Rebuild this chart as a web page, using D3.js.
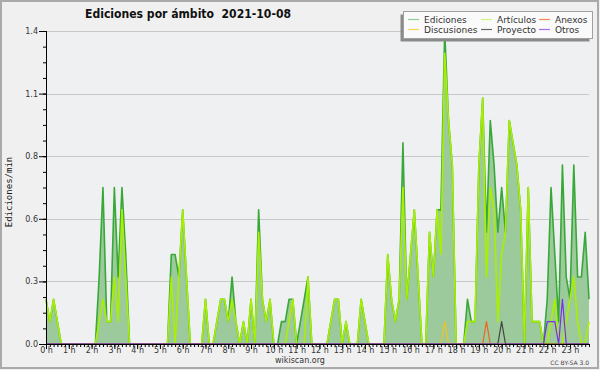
<!DOCTYPE html>
<html>
<head>
<meta charset="utf-8">
<script src="https://cdn.jsdelivr.net/npm/d3@7"></script>
<style>
  body { margin: 0; background: #f0f0f0; }
  svg { display: block; font-family: "DejaVu Sans", sans-serif; }
  text { white-space: pre; }
</style>
</head>
<body>
<svg id="chart" width="600" height="370"></svg>
<script>
// 10-minute slots, six per hour, values in edits per minute
const hourLabels = ["0 h", "1 h", "2 h", "3 h", "4 h", "5 h", "6 h", "7 h", "8 h", "9 h", "10 h", "11 h",
    "12 h", "13 h", "14 h", "15 h", "16 h", "17 h", "18 h", "19 h", "20 h", "21 h", "22 h", "23 h"];

const yMajorTicks = [0, 0.28, 0.56, 0.84, 1.12, 1.4];

const ediciones = [
    0.2,0.1,0.2,0.1,0,0,  0,0,0,0,0,0,  0,0,0.3,0.7,0.1,0.1,  0.7,0.3,0.7,0.4,0,0,
    0,0,0,0,0,0,  0,0,0,0.4,0.4,0.3,  0.6,0.3,0,0,0,0,  0.2,0,0,0.1,0.2,0.2,
    0.1,0.3,0.1,0,0.1,0,  0.2,0,0.6,0.2,0.1,0.2,  0,0,0.1,0.1,0.2,0.2,  0,0.1,0.2,0.3,0,0,
    0,0,0,0.1,0.2,0.2,  0,0.1,0,0,0,0.2,  0.1,0,0,0,0,0,  0.4,0.2,0.1,0.2,0.9,0.2,
    0.4,0.6,0.3,0,0,0.5,  0.3,0.6,0.6,1.4,1.0,0.8,  0,0,0,0.2,0.1,0.1,  0.8,1.1,0.5,1.0,0.8,0.5,
    0.7,0.5,1.0,0.9,0.8,0.6,  0,0.7,0.1,0.1,0.1,0,  0.2,0.7,0.4,0.1,0.8,0.3,  0.2,0.8,0.3,0.3,0.5,0.2
];

const articulos = [
    0.2,0.1,0.2,0.1,0,0,  0,0,0,0,0,0,  0,0,0.1,0.2,0.1,0.1,  0.3,0.1,0.6,0.3,0,0,
    0,0,0,0,0,0,  0,0,0,0.3,0,0.3,  0.6,0.3,0,0,0,0,  0.2,0,0,0.1,0.2,0.2,
    0.1,0.2,0.1,0,0.1,0,  0.2,0,0.5,0.2,0.1,0.2,  0,0,0,0,0.1,0.2,  0,0,0,0.3,0,0,
    0,0,0,0.1,0.2,0.2,  0,0.1,0,0,0,0.2,  0.1,0,0,0,0,0,  0.4,0.2,0.1,0.2,0.7,0.2,
    0.4,0.6,0.3,0,0,0.5,  0.3,0.6,0.4,1.3,1.0,0.8,  0,0,0,0.1,0.1,0.1,  0.8,1.1,0.3,0.7,0.6,0.1,
    0.4,0.5,1.0,0.9,0.8,0.6,  0,0.7,0.1,0.1,0.1,0,  0,0.1,0.2,0,0,0.1,  0.2,0.3,0.1,0,0,0.1
];

const anexos = [
    0,0,0,0,0,0,  0,0,0,0,0,0,  0,0,0,0,0,0,  0,0,0,0,0,0,
    0,0,0,0,0,0,  0,0,0,0,0,0,  0,0,0,0,0,0,  0,0,0,0,0,0,
    0,0,0,0,0,0,  0,0,0,0,0,0,  0,0,0,0,0,0,  0,0,0,0,0,0,
    0,0,0,0,0,0,  0,0,0,0,0,0,  0,0,0,0,0,0,  0,0,0,0,0,0,
    0,0,0,0,0,0,  0,0,0,0,0,0,  0,0,0,0,0,0,  0,0,0.1,0,0,0,
    0,0,0,0,0,0,  0,0,0,0,0,0,  0,0,0,0,0,0,  0,0,0,0,0,0
];

const discusiones = [
    0,0,0,0,0,0,  0,0,0,0,0,0,  0,0,0,0,0,0,  0,0,0,0,0,0,
    0,0,0,0,0,0,  0,0,0,0,0,0,  0,0,0,0,0,0,  0,0,0,0,0,0,
    0,0,0,0,0,0,  0,0,0,0,0,0,  0,0,0,0,0,0,  0,0,0,0,0,0,
    0,0,0,0,0,0,  0,0,0,0,0,0,  0,0,0,0,0,0,  0,0,0,0,0,0,
    0,0,0,0,0,0,  0,0,0,0.1,0,0,  0,0,0,0,0,0,  0,0,0,0,0,0,
    0,0,0,0,0,0,  0,0,0,0,0,0,  0,0,0,0,0,0,  0,0,0,0,0,0
];

const proyecto = [
    0,0,0,0,0,0,  0,0,0,0,0,0,  0,0,0,0,0,0,  0,0,0,0,0,0,
    0,0,0,0,0,0,  0,0,0,0,0,0,  0,0,0,0,0,0,  0,0,0,0,0,0,
    0,0,0,0,0,0,  0,0,0,0,0,0,  0,0,0,0,0,0,  0,0,0,0,0,0,
    0,0,0,0,0,0,  0,0,0,0,0,0,  0,0,0,0,0,0,  0,0,0,0,0,0,
    0,0,0,0,0,0,  0,0,0,0,0,0,  0,0,0,0,0,0,  0,0,0,0,0,0,
    0.1,0,0,0,0,0,  0,0,0,0,0,0,  0,0,0,0,0,0,  0,0,0,0,0,0
];

const otros = [
    0,0,0,0,0,0,  0,0,0,0,0,0,  0,0,0,0,0,0,  0,0,0,0,0,0,
    0,0,0,0,0,0,  0,0,0,0,0,0,  0,0,0,0,0,0,  0,0,0,0,0,0,
    0,0,0,0,0,0,  0,0,0,0,0,0,  0,0,0,0,0,0,  0,0,0,0,0,0,
    0,0,0,0,0,0,  0,0,0,0,0,0,  0,0,0,0,0,0,  0,0,0,0,0,0,
    0,0,0,0,0,0,  0,0,0,0,0,0,  0,0,0,0,0,0,  0,0,0,0,0,0,
    0,0,0,0,0,0,  0,0,0,0,0,0,  0.1,0.1,0.1,0,0.2,0,  0,0,0,0,0,0
];

const svg = d3.select("#chart");
const x = d3.scaleLinear().domain([0, ediciones.length - 1]).range([46, 589]);
const y = d3.scaleLinear().domain([0, 1.4]).range([344, 31]);

// frame + plot background
svg.append("rect").attr("x", 1).attr("y", 1).attr("width", 597).attr("height", 367)
    .attr("fill", "#f0f0f0").attr("stroke", "#aaa").attr("stroke-width", 2);
svg.append("rect").attr("x", 46).attr("y", 31).attr("width", 543).attr("height", 313)
    .attr("fill", "#eef0f2");

// grid
svg.append("g").selectAll("line")
    .data(yMajorTicks.slice(1))
    .join("line")
    .attr("x1", 46).attr("x2", 589)
    .attr("y1", d => Math.round(y(d)) + 0.5).attr("y2", d => Math.round(y(d)) + 0.5)
    .attr("stroke", "#c8c8c8");

// total edits area
const area = d3.area()
    .x((d, i) => x(i))
    .y0(y(0))
    .y1(d => y(d));
svg.append("path").datum(ediciones)
    .attr("d", area)
    .attr("fill", "#9dca9d");

const line = d3.line().x((d, i) => x(i)).y(d => y(d));

const series = [
    {name: "Ediciones", values: ediciones, color: "#38a838", legend: "#8fd08f", width: 1.6},
    {name: "Artículos", values: articulos, color: "#a8f000", legend: "#d2f37c", width: 1.6},
    {name: "Anexos", values: anexos, color: "#ee6622", legend: "#f58a55", width: 1.2},
    {name: "Discusiones", values: discusiones, color: "#f2c21a", legend: "#f7d55a", width: 1.2},
    {name: "Proyecto", values: proyecto, color: "#444", legend: "#666", width: 1.2},
    {name: "Otros", values: otros, color: "#7a2ee8", legend: "#a070f0", width: 1.2}
];

svg.append("g").selectAll("path")
    .data(series)
    .join("path")
    .attr("d", d => line(d.values))
    .attr("fill", "none")
    .attr("stroke", d => d.color)
    .attr("stroke-width", d => d.width)
    .attr("stroke-linejoin", "round");

// y axis
const fmt = d3.format(".1f");
const yMinor = svg.append("g").attr("transform", "translate(46,0)")
    .call(d3.axisLeft(y).tickValues(d3.range(0, 21).map(k => k * 0.07)).tickSize(3).tickFormat(""));
const yAxis = svg.append("g").attr("transform", "translate(46,0)")
    .call(d3.axisLeft(y).tickValues(yMajorTicks).tickSize(7).tickPadding(1).tickFormat(fmt));
[yMinor, yAxis].forEach(g => {
    g.select(".domain").remove();
    g.selectAll("line").attr("stroke", "#000");
});
yAxis.selectAll("text").attr("font-size", 8).attr("fill", "#333")
    .attr("font-family", "DejaVu Sans");
svg.append("line").attr("x1", 46.5).attr("x2", 46.5).attr("y1", 31).attr("y2", 344.5)
    .attr("stroke", "#000");

// x axis
const xMinor = svg.append("g").attr("transform", "translate(0,344)")
    .call(d3.axisBottom(x).tickValues(d3.range(ediciones.length)).tickSize(3).tickFormat(""));
const xAxis = svg.append("g").attr("transform", "translate(0,344)")
    .call(d3.axisBottom(x).tickValues(hourLabels.map((_, h) => h * 6)).tickSize(5)
        .tickFormat((d, i) => hourLabels[i]));
[xMinor, xAxis].forEach(g => {
    g.select(".domain").remove();
    g.selectAll("line").attr("stroke", "#000");
});
xAxis.selectAll("text").attr("y", 3).attr("font-size", 8).attr("fill", "#333")
    .attr("font-family", "DejaVu Sans");
svg.append("line").attr("x1", 46).attr("x2", 589.5).attr("y1", 344.5).attr("y2", 344.5)
    .attr("stroke", "#000");

// axis title
svg.append("text")
    .attr("transform", "translate(12,192) rotate(-90)")
    .attr("text-anchor", "middle")
    .attr("font-family", "DejaVu Sans Mono")
    .attr("font-size", 9)
    .attr("fill", "#111")
    .text("Ediciones/min");

// title
svg.append("text")
    .attr("x", 85).attr("y", 18)
    .attr("font-family", "'DejaVu Sans Condensed', 'DejaVu Sans', sans-serif")
    .attr("font-size", 12.5).attr("font-weight", "bold").attr("fill", "#111")
    .attr("textLength", 206).attr("lengthAdjust", "spacingAndGlyphs")
    .text("Ediciones por ámbito  2021-10-08");

// legend
const legend = svg.append("g");
legend.append("rect").attr("x", 400.5).attr("y", 14.5).attr("width", 189).attr("height", 27)
    .attr("fill", "#8a8a8a");
legend.append("rect").attr("x", 403.5).attr("y", 11.5).attr("width", 189).attr("height", 27)
    .attr("fill", "#fafafa").attr("stroke", "#a0a0a0");
const legendOrder = ["Ediciones", "Discusiones", "Artículos", "Proyecto", "Anexos", "Otros"];
const colX = [408, 481, 539];
const rowY = [19.5, 29.5];
legendOrder.forEach((name, k) => {
    const s = series.find(d => d.name === name);
    const cx = colX[Math.floor(k / 2)], ry = rowY[k % 2];
    legend.append("line").attr("x1", cx).attr("x2", cx + 11).attr("y1", ry).attr("y2", ry)
        .attr("stroke", s.legend).attr("stroke-width", 1.2);
    legend.append("text").attr("x", cx + 16).attr("y", ry + 3.2)
        .attr("font-size", 9).attr("fill", "#333").text(name);
});

// footer
svg.append("text").attr("x", 300).attr("y", 363).attr("text-anchor", "middle")
    .attr("font-size", 8).attr("fill", "#333").text("wikiscan.org");
svg.append("text").attr("x", 589).attr("y", 365).attr("text-anchor", "end")
    .attr("font-size", 6).attr("fill", "#444").text("CC BY-SA 3.0");
</script>
</body>
</html>
